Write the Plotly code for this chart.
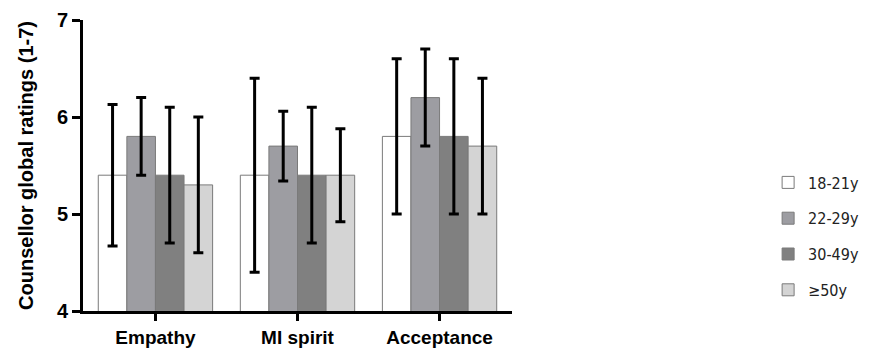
import plotly.graph_objects as go

categories = ["Empathy", "MI spirit", "Acceptance"]
groups = ["18-21y", "22-29y", "30-49y", "≥50y"]
means = {
    "18-21y": [5.4, 5.4, 5.8],
    "22-29y": [5.8, 5.7, 6.2],
    "30-49y": [5.4, 5.4, 5.8],
    "≥50y":   [5.3, 5.4, 5.7],
}
errors = {
    "18-21y": [0.73, 1.0, 0.8],
    "22-29y": [0.4, 0.36, 0.5],
    "30-49y": [0.7, 0.7, 0.8],
    "≥50y":   [0.7, 0.48, 0.7],
}
colors = {"18-21y": "#ffffff", "22-29y": "#9d9da2", "30-49y": "#808080", "≥50y": "#d4d4d4"}

fig = go.Figure()
for i, g in enumerate(groups):
    fig.add_trace(go.Bar(
        name=g, x=categories, y=means[g], base=0,
        marker=dict(color=colors[g], line=dict(color="#7a7a7a", width=1)),
        error_y=dict(type="data", array=errors[g], color="black", thickness=3, width=5),
        legendgroup=g,
    ))

BOLD = dict(family="Liberation Sans, Arial, sans-serif", weight="bold", color="black")

fig.update_layout(
    barmode="group", bargap=0.195, bargroupgap=0,
    width=868, height=341,
    margin=dict(l=75, r=352, t=12, b=38),
    plot_bgcolor="white", paper_bgcolor="white",
    font=dict(family="Liberation Sans, Arial, sans-serif", color="black"),
    showlegend=True,
    legend=dict(x=1.597, y=0.50, xanchor="left", yanchor="top",
                font=dict(family="DejaVu Sans Condensed, Liberation Sans Narrow, Liberation Sans, sans-serif", size=16, color="#222"),
                tracegroupgap=12, traceorder="grouped"),
)
fig.update_xaxes(range=[-0.51, 2.51], showline=True, linecolor="black", linewidth=3,
                 ticks="outside", ticklen=7, tickwidth=3, tickcolor="black", automargin=False,
                 tickfont=dict(size=19, **BOLD))
fig.update_yaxes(range=[4, 7], tickvals=[4, 5, 6, 7], showline=True, linecolor="black", linewidth=3,
                 ticks="outside", ticklen=8, tickwidth=3, tickcolor="black", showgrid=False, zeroline=False,
                 automargin=False,
                 tickfont=dict(size=20, **BOLD),
                 title=dict(text="Counsellor global ratings (1-7)", font=dict(size=20, **BOLD), standoff=18))
fig.write_html("out.html")
